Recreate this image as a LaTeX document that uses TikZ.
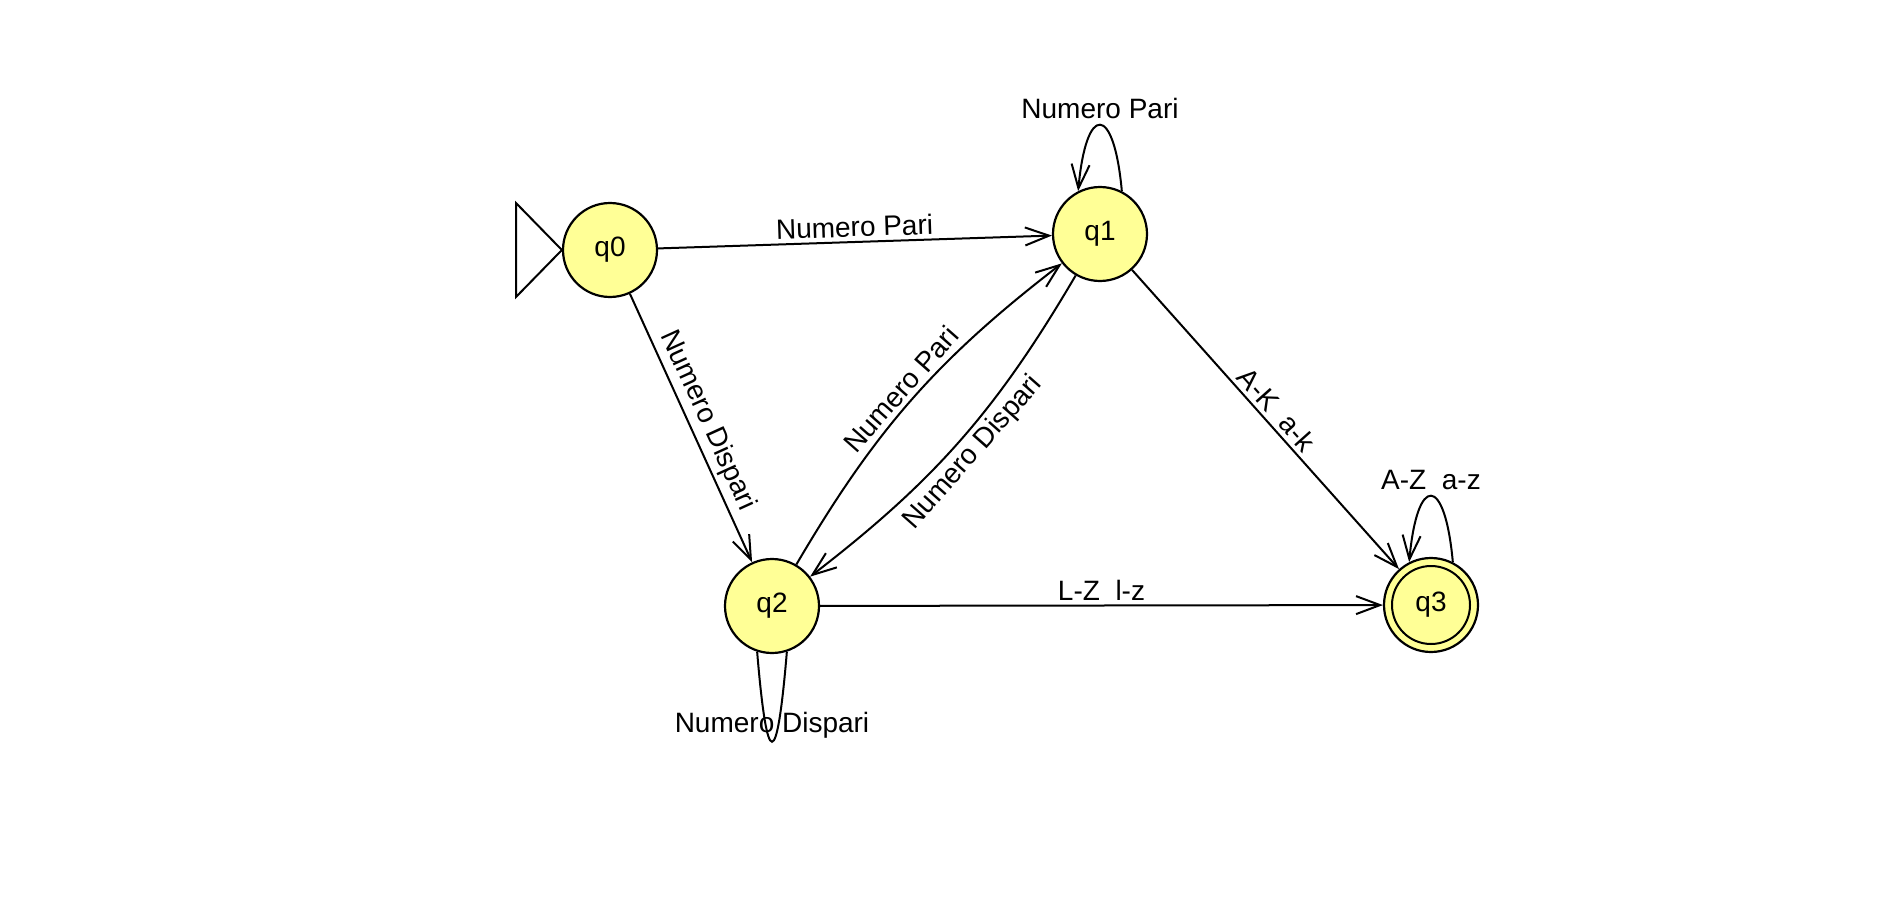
\documentclass[tikz,border=0pt]{standalone}
\usepackage{fontspec}
\setmainfont{Liberation Sans}
\usetikzlibrary{arrows.meta}
\definecolor{statefill}{RGB}{255,255,150}
\begin{document}
\begin{tikzpicture}[x=1pt,y=1pt,
  every node/.style={font=\fontsize{28}{34}\selectfont},
  state/.style={circle, draw=black, line width=2.2pt, fill=statefill,
    minimum size=94pt, inner sep=0pt},
  edge/.style={draw=black, line width=2pt,
    -{Straight Barb[length=24pt,width=18pt]}},
  plain/.style={draw=black, line width=2pt},
  lbl/.style={inner sep=4pt}]
\useasboundingbox (0,0) rectangle (1893,-915);

% states
\node[state] (q0) at (610,-250) {q0};
\node[state] (q1) at (1100,-234) {q1};
\node[state] (q2) at (772,-606) {q2};
\node[state] (q3) at (1431,-605) {q3};
\draw[line width=2pt] (q3.center) circle[radius=39];

% start marker
\coordinate (s1) at (516,-203);
\coordinate (s2) at (516,-297);
\draw[line width=2pt, line join=miter] (s1) -- (q0.west) -- (s2) -- cycle;

% transitions
\draw[edge] (q0) -- node[lbl, above, sloped] {Numero Pari} (q1);
\draw[edge] (q0) -- node[lbl, above, sloped] {Numero Dispari} (q2);
\draw[edge] (q2) to[bend left=11] node[lbl, above, sloped] {Numero Pari} (q1);
\draw[edge] (q1) to[bend left=11] node[lbl, below, sloped] {Numero Dispari} (q2);
\draw[edge] (q1) -- node[lbl, above, sloped] {A-K~~a-k} (q3);
\draw[edge] (q2) -- node[lbl, above] {L-Z~~l-z} (q3);

% self loops
\draw[edge] (q1.63) .. controls +(-8,88) and +(8,88) .. node[lbl, above, inner sep=5pt] {Numero Pari} (q1.117);
\draw[edge] (q3.63) .. controls +(-8,88) and +(8,88) .. node[lbl, above, inner sep=5pt] {A-Z~~a-z} (q3.117);
\draw[plain] (q2.-72) .. controls +(-10,-120) and +(10,-120) .. node[pos=0.5, anchor=base, yshift=9pt] {Numero Dispari} (q2.-108);
\end{tikzpicture}
\end{document}
